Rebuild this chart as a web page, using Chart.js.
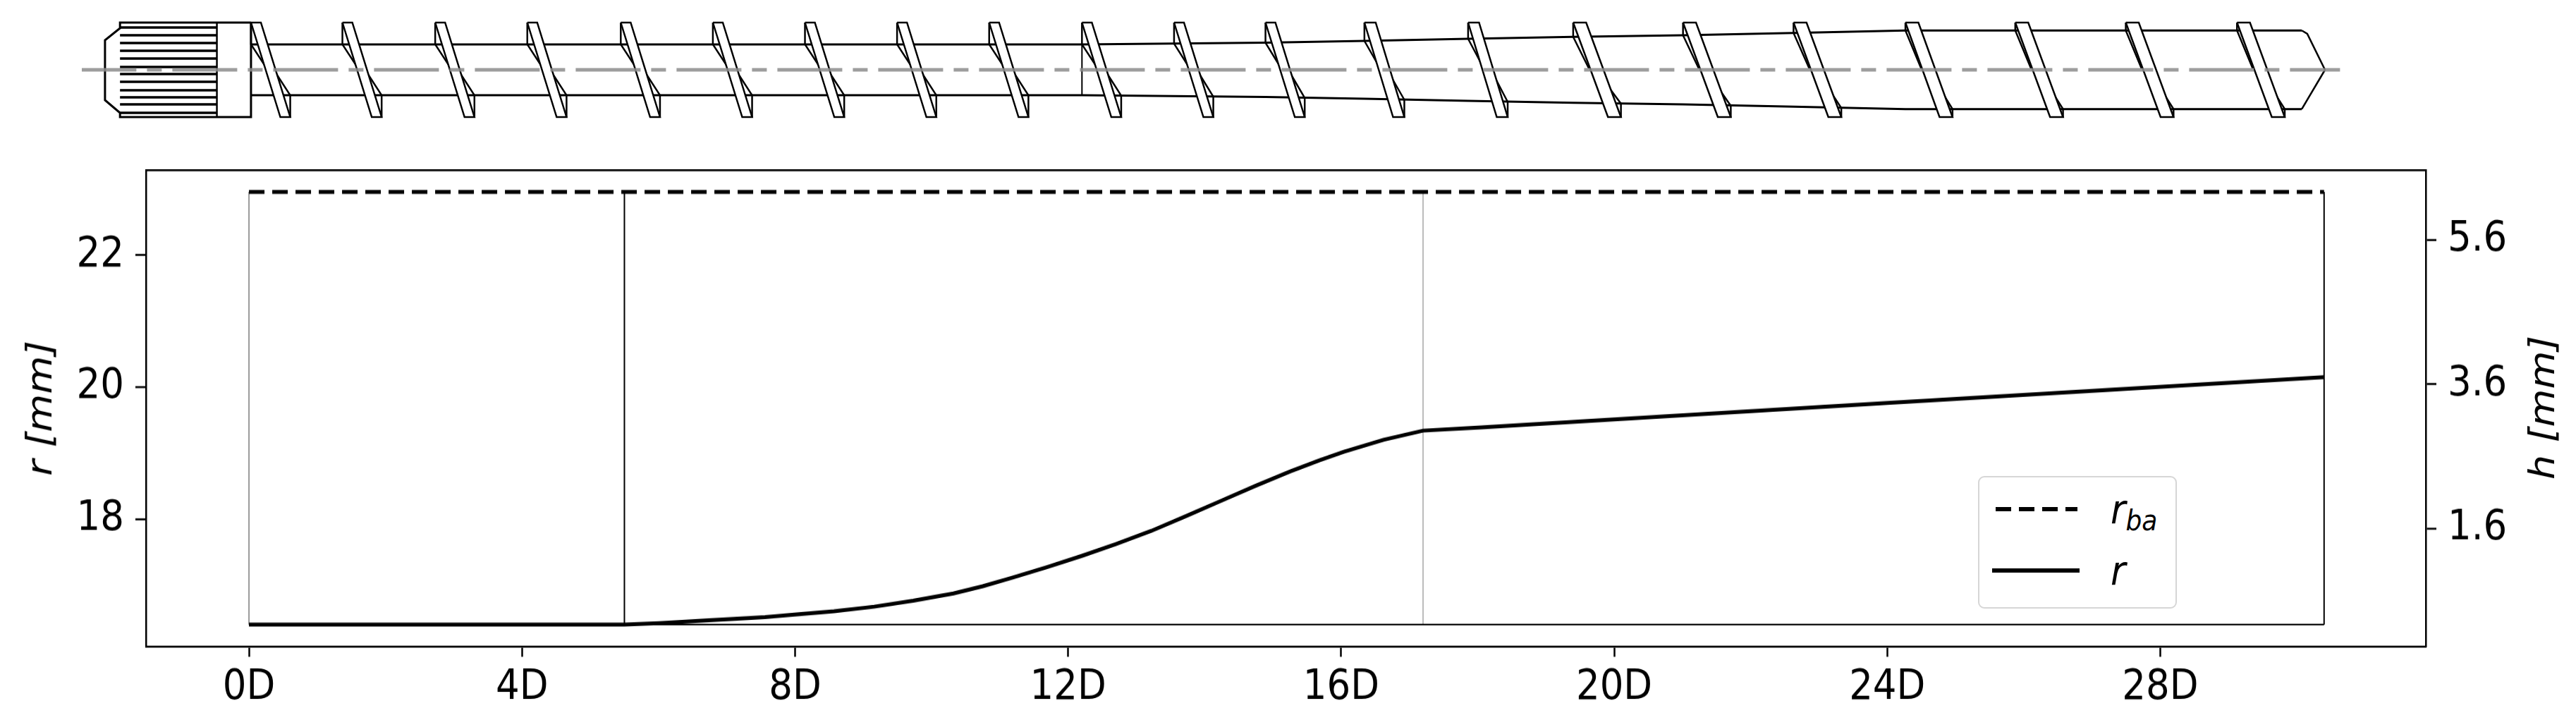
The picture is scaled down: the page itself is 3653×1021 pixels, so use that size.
<!DOCTYPE html>
<html>
<head>
<meta charset="utf-8">
<title>Screw profile</title>
<script src="https://cdn.jsdelivr.net/npm/chart.js@4/dist/chart.umd.min.js"></script>
<style>
  body { margin: 0; background: #fff; font-family: "DejaVu Sans", sans-serif; }
  #page { position: relative; width: 3653px; height: 1021px; overflow: hidden; }
  canvas { position: absolute; left: 0; }
  #screw { top: 0; }
  #profile { top: 220px; }
  #legend {
    position: absolute; left: 2805px; top: 675px; width: 278px; height: 184px;
    border: 2.5px solid #d6d6d6; border-radius: 9px; background: #fff;
  }
  #legend .row { position: absolute; left: 0; width: 100%; height: 60px; }
  #legend svg { position: absolute; left: 17.5px; top: 19.5px; }
  #legend .name {
    position: absolute; left: 186px; top: -7px; font-size: 52px; font-style: italic; line-height: 60px;
    transform: scaleY(1.11); transform-origin: left center;
  }
  #legend sub { font-size: 36px; line-height: 0; vertical-align: -9px; }
  #hTitle {
    position: absolute; left: 3605px; top: 578px; font-size: 50px; font-style: italic;
    white-space: nowrap; transform: translate(-50%, -50%) rotate(-90deg) scaleX(1.11);
  }
</style>
</head>
<body>
<div id="page">
  <canvas id="screw" width="3653" height="220"></canvas>
  <!-- the source figure is stretched a little in height, so this canvas is too -->
  <canvas id="profile" width="3653" height="722" style="width:3653px;height:801px"></canvas>
  <div id="legend"></div>
  <div id="hTitle">h [mm]</div>
</div>
<script>
// profile plot
const xTicks = [0, 4, 8, 12, 16, 20, 24, 28];
const rTicks = [18, 20, 22];
const hTicks = [1.6, 3.6, 5.6];
const rX = [0, 5.5, 6, 6.69, 7.56, 7.99, 8.57, 9.16, 9.73, 10.32, 10.75, 11.18, 11.69, 12.2, 12.7, 13.22, 13.72, 14.23, 14.74, 15.25, 15.68, 16.04, 16.62, 17.2, 18.05, 24, 30.4];
const rValues = [16.4, 16.4, 16.42, 16.46, 16.51, 16.55, 16.6, 16.67, 16.76, 16.87, 16.98, 17.11, 17.27, 17.44, 17.62, 17.82, 18.04, 18.27, 18.5, 18.72, 18.89, 19.02, 19.2, 19.34, 19.39, 19.76, 20.15];
const barrelX = [0, 30.4];
const barrelValues = [22.96, 22.96];
const sectionX = [0, 5.5, 17.2, 30.4];
const sectionColors = ["#9a9a9a", "#000000", "#bbbbbb", "#000000"];

// screw drawing, x in D, y is half height from the axis
const flightX = [0.03, 1.37, 2.73, 4.08, 5.45, 6.8, 8.15, 9.5, 10.85, 12.21, 13.56, 14.9, 16.35, 17.87, 19.41, 21.02, 22.64, 24.28, 25.89, 27.51, 29.14];
const flightWidth = [0.145, 0.145, 0.145, 0.145, 0.145, 0.145, 0.145, 0.145, 0.145, 0.145, 0.145, 0.145, 0.165, 0.16, 0.19, 0.19, 0.19, 0.19, 0.19, 0.19, 0.19];
const flightLean = [0.43, 0.43, 0.43, 0.43, 0.43, 0.43, 0.43, 0.43, 0.43, 0.43, 0.43, 0.43, 0.42, 0.42, 0.51, 0.51, 0.51, 0.5, 0.51, 0.51, 0.51];
const flightRootUp = [36, 36, 36, 36, 36, 36, 36, 36, 36, 36, 37.2, 38.4, 41, 44, 46.7, 49, 52.3, 55.7, 55.7, 55.7, 55.7];
const flightRootLow = [36, 36, 36, 36, 36, 36, 36, 36, 36, 36.5, 38, 39.8, 42.5, 45.5, 48, 51, 54, 55.7, 55.7, 55.7, 55.7];
const flightTip = 67;
const rootX = [0.03, 12.21, 14.9, 16.35, 17.87, 19.41, 21.02, 22.64, 24.28, 30.09];
const rootR = [36, 36, 38.4, 41, 44, 46.7, 49, 52.3, 55.7, 55.7];
const tipX = [30.09, 30.17, 30.43];
const tipR = [55.7, 51, 0];
const jointX = 12.21;
const knurlX = [-1.89, -0.47];
const knurlLines = [60, 49, 38, 27, 16, 4, -6, -17, -29, -39, -49, -61];
const headX = [0.03, -1.89, -1.89, -2.11, -2.11, -1.89, -1.89, 0.03, 0.03];
const headR = [67, 67, 59, 42, -43, -61, -67, -67, 67];
const shoulderX = [-0.47, -0.47];
const axisX = [-2.45, 30.65];
const axisR = [0, 0];

function pairs(xs, ys) {
  return xs.map((x, i) => ({ x, y: ys[i] }));
}

function screwLine(data, extra) {
  return Object.assign({
    data,
    showLine: true,
    pointRadius: 0,
    borderColor: "#000",
    borderWidth: 2.5,
    fill: false,
    tension: 0
  }, extra);
}

function buildScrewDatasets() {
  const sets = [];

  sets.push(screwLine(pairs(axisX, axisR), {
    borderColor: "rgba(140,140,140,0.85)",
    borderWidth: 5,
    borderDash: [92, 15, 21, 15],
    borderDashOffset: 14.6
  }));

  flightX.forEach((x, i) => {
    const w = flightWidth[i];
    const lean = flightLean[i];
    sets.push(screwLine([
      { x, y: flightTip },
      { x: x + w, y: flightTip },
      { x: x + lean + w, y: -flightTip },
      { x: x + lean, y: -flightTip },
      { x, y: flightTip }
    ], { fill: "shape", backgroundColor: "#fff" }));

    // root edges running into the flight
    sets.push(screwLine([
      { x, y: flightTip },
      { x, y: flightRootUp[i] },
      { x: x + 0.23, y: 2 }
    ]));
    sets.push(screwLine([
      { x: x + lean + w, y: -flightTip },
      { x: x + lean + w, y: -flightRootLow[i] },
      { x: x + 0.34, y: -1 }
    ]));
  });

  sets.push(screwLine(pairs(rootX, rootR), { borderWidth: 3 }));
  sets.push(screwLine(pairs(rootX, rootR.map((v) => -v)), { borderWidth: 3 }));
  sets.push(screwLine(pairs(tipX, tipR)));
  sets.push(screwLine([{ x: tipX[0], y: -tipR[0] }, { x: tipX[2], y: tipR[2] }]));
  sets.push(screwLine([{ x: jointX, y: rootR[0] }, { x: jointX, y: -rootR[0] }], { borderWidth: 2 }));

  knurlLines.forEach((y) => {
    sets.push(screwLine(pairs(knurlX, [y, y]), { borderWidth: 3.5 }));
  });
  sets.push(screwLine(pairs(shoulderX, [flightTip, -flightTip])));
  sets.push(screwLine(pairs(headX, headR), { borderWidth: 3 }));

  return sets;
}

new Chart(document.getElementById("screw"), {
  type: "scatter",
  data: { datasets: buildScrewDatasets() },
  options: {
    responsive: false,
    animation: false,
    layout: { padding: 0 },
    plugins: { legend: { display: false }, tooltip: { enabled: false } },
    scales: {
      x: { type: "linear", display: false, min: -3.649, max: 34.109 },
      y: { type: "linear", display: false, min: -121, max: 99 }
    }
  }
});

// fixed box size, and no extra room for the outer tick labels
function sizeBox(prop, size) {
  return (scale) => {
    scale[prop] = size;
    scale.paddingTop = 0;
    scale.paddingBottom = 0;
    scale.paddingLeft = 0;
    scale.paddingRight = 0;
  };
}

function fixedTicks(values) {
  return (scale) => { scale.ticks = values.map((value) => ({ value })); };
}

const tickFont = { family: "'DejaVu Sans'", size: 53 };
const spine = { display: true, color: "#000", width: 2.5 };
const xGrid = { drawOnChartArea: false, drawTicks: true, tickLength: 13, tickWidth: 2.5, tickColor: "#000" };
const yGrid = { drawOnChartArea: false, drawTicks: true, tickLength: 15, tickWidth: 2.5, tickColor: "#000" };

const sectionSets = sectionX.map((x, i) => ({
  data: pairs([x, x], [rValues[0], barrelValues[0]]),
  showLine: true,
  pointRadius: 0,
  borderColor: sectionColors[i],
  borderWidth: 2,
  yAxisID: "y"
}));

const profile = new Chart(document.getElementById("profile"), {
  type: "scatter",
  data: {
    datasets: [
      {
        label: "r_ba",
        data: pairs(barrelX, barrelValues),
        showLine: true,
        pointRadius: 0,
        borderColor: "#000",
        borderWidth: 5,
        borderDash: [22, 11],
        yAxisID: "y"
      },
      {
        label: "r",
        data: pairs(rX, rValues),
        showLine: true,
        pointRadius: 0,
        borderColor: "#000",
        borderWidth: 5,
        yAxisID: "y"
      },
      {
        data: pairs(barrelX, [rValues[0], rValues[0]]),
        showLine: true,
        pointRadius: 0,
        borderColor: "#000",
        borderWidth: 2,
        yAxisID: "y"
      },
      ...sectionSets
    ]
  },
  options: {
    responsive: false,
    animation: false,
    layout: { padding: 0 },
    plugins: { legend: { display: false }, tooltip: { enabled: false } },
    scales: {
      x: {
        type: "linear",
        position: "bottom",
        min: -1.509,
        max: 31.89,
        afterFit: sizeBox("height", 93.8),
        afterBuildTicks: fixedTicks(xTicks),
        border: spine,
        grid: xGrid,
        ticks: {
          color: "#000",
          font: tickFont,
          padding: 8,
          maxRotation: 0,
          callback: (v) => `${v}D`
        }
      },
      top: {
        type: "linear",
        position: "top",
        min: -1.509,
        max: 31.89,
        afterFit: sizeBox("height", 18.9),
        border: spine,
        grid: { display: false },
        ticks: { display: false }
      },
      y: {
        type: "linear",
        position: "left",
        min: 16.064,
        max: 23.294,
        afterFit: sizeBox("width", 207),
        afterBuildTicks: fixedTicks(rTicks),
        border: spine,
        grid: yGrid,
        title: {
          display: true,
          text: "r [mm]",
          color: "#000",
          padding: { top: 30, bottom: 0 },
          font: { family: "'DejaVu Sans'", size: 50, style: "italic" }
        },
        ticks: { color: "#000", font: tickFont, padding: 16 }
      },
      h: {
        type: "linear",
        position: "right",
        min: -0.029,
        max: 6.566,
        afterFit: sizeBox("width", 213),
        afterBuildTicks: fixedTicks(hTicks),
        border: spine,
        grid: yGrid,
        ticks: {
          color: "#000",
          font: tickFont,
          padding: 16,
          callback: (v) => v.toFixed(1)
        }
      }
    }
  }
});

// html legend because the canvas legend has no subscripts
function renderLegend(chart) {
  const box = document.getElementById("legend");
  const tops = [22, 109];
  chart.data.datasets.slice(0, 2).forEach((ds, i) => {
    const [base, sub] = ds.label.split("_");
    const sample = ds.borderDash
      ? `<line x1="5" y1="3" x2="121" y2="3" stroke-dasharray="22 11"`
      : `<line x1="0" y1="3" x2="124" y2="3"`;
    const row = document.createElement("div");
    row.className = "row";
    row.style.top = `${tops[i]}px`;
    row.innerHTML = `
      <svg width="126" height="6">${sample} stroke="${ds.borderColor}" stroke-width="6"/></svg>
      <span class="name">${base}${sub ? `<sub>${sub}</sub>` : ""}</span>
    `;
    box.appendChild(row);
  });
}

renderLegend(profile);
</script>
</body>
</html>
